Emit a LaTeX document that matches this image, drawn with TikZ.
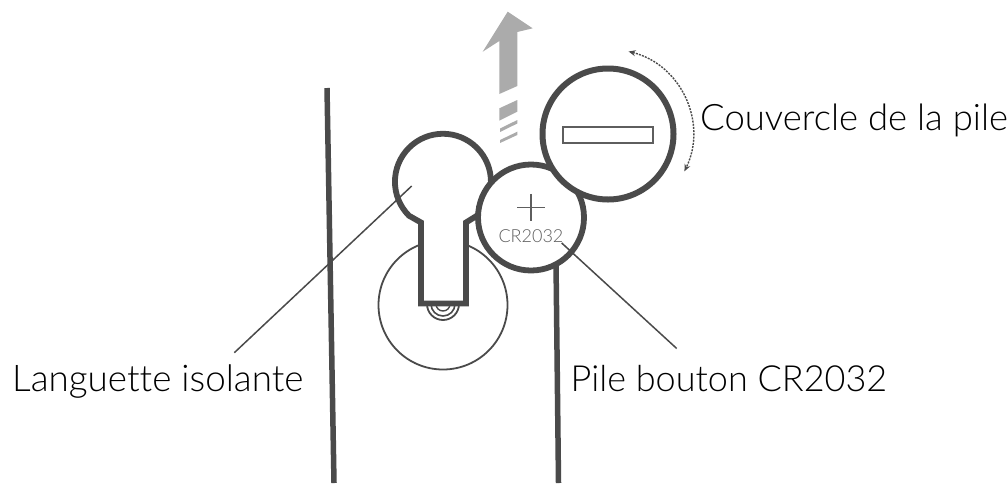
\documentclass[tikz,border=0pt]{standalone}
\usepackage{fontspec}
\setmainfont{Lato}[UprightFont=* Light,Ligatures=NoCommon]
\usetikzlibrary{arrows.meta}
\definecolor{inkd}{HTML}{4A4A4A}
\definecolor{inkm}{HTML}{5E5E5E}
\definecolor{arrowgrey}{HTML}{ABABAB}
\tikzset{
  x=1pt,y=-1pt,
  ring/.style={draw=inkd,line width=5.8pt,fill=white},
  thickbar/.style={draw=inkd,line width=5.5pt,line cap=butt},
  leader/.style={draw=inkd,line width=1.5pt},
  labeltext/.style={inner sep=0pt,anchor=base west,text=black,font=\fontsize{36.5}{40}\selectfont},
  grey block/.style={fill=arrowgrey,draw=none},
}
\begin{document}
\begin{tikzpicture}
\useasboundingbox (0,0) rectangle (1008,483);
% vertical bars
\coordinate (barLtop) at (327,88);
\coordinate (barLbot) at (334,483);
\coordinate (barRtop) at (556,262);
\coordinate (barRbot) at (558.5,483);
\draw[thickbar] (barLtop) -- (barLbot);
\draw[thickbar] (barRtop) -- (barRbot);
% lower disc
\node[circle,draw=inkd,line width=1.8pt,minimum size=129pt,inner sep=0pt] (disc) at (443,305) {};
% arrow
\fill[grey block] (507.7,11.7) -- (532.7,28.3) -- (517.3,32) -- (517.3,86) -- (499.3,94) -- (499.3,41) -- (482.7,51.7) -- cycle;
\fill[grey block] (499.3,108.3) -- (517.3,100) -- (517.3,111.7) -- (499.3,120.7) -- cycle;
\fill[grey block] (500,128.5) -- (517.3,120) -- (517.3,123.5) -- (500,132) -- cycle;
\fill[grey block] (500,140) -- (517.3,131.7) -- (517.3,135) -- (500,143) -- cycle;
% small lock detail
\draw[inkd,line width=1.8pt] (427,304) arc[start angle=180,end angle=0,radius=16];
\draw[inkd,line width=1.6pt] (431,304) arc[start angle=180,end angle=0,radius=12];
\draw[inkd,line width=1.4pt] (436,304) arc[start angle=180,end angle=0,radius=7];
% keyhole
\draw[ring,line join=miter] (421,303.5) -- (421,222.5) -- (409,215.7)
  arc[start angle=135,end angle=405,radius=48] -- (466,222.5) -- (466,303.5) -- cycle;
% battery and cover
\node[circle,ring,minimum size=106pt,inner sep=0pt] (battery) at (531,217.5) {};
\node[circle,ring,line width=6pt,minimum size=131pt,inner sep=0pt] (cover) at (608,134) {};
% minus slot
\node[draw=inkm,line width=2pt,fill=white,minimum width=90pt,minimum height=16pt,inner sep=0pt] (slot) at (608,134.5) {};
% plus
\node[inner sep=0pt,minimum size=27pt] (plus) at (531,207.5) {};
\draw[inkm,line width=1.4pt] (plus.west) -- (plus.east);
\draw[inkm,line width=1.4pt] (plus.north) -- (plus.south);
\node[inner sep=0pt,text=inkm,font=\fontsize{18}{20}\selectfont] (cr) at (531,236) {CR2032};
% rotation arrow
\coordinate (rotA) at (628.6,51.5);
\coordinate (rotB) at (684.4,171.3);
\draw[inkd,line width=1.4pt,dash pattern=on 2pt off 1.2pt,{Stealth[length=7pt,width=6pt]}-{Stealth[length=7pt,width=6pt]}]
  (rotA) .. controls (681,64.5) and (708,122.8) .. (rotB);
% labels
\node[labeltext,font=\fontsize{36.8}{40}\selectfont] (lang) at (12,391) {Languette isolante};
\node[labeltext,font=\fontsize{36}{40}\selectfont] (pile) at (570.5,391) {Pile bouton CR2032};
\node[labeltext] (couv) at (700,130) {Couvercle de la pile};
% leaders
\coordinate (leadA) at (411.7,186);
\coordinate (leadAend) at (234.3,352.7);
\coordinate (leadB) at (561.7,243);
\coordinate (leadBend) at (676.7,348.5);
\draw[leader] (leadA) -- (leadAend);
\draw[leader] (leadB) -- (leadBend);
\end{tikzpicture}
\end{document}
